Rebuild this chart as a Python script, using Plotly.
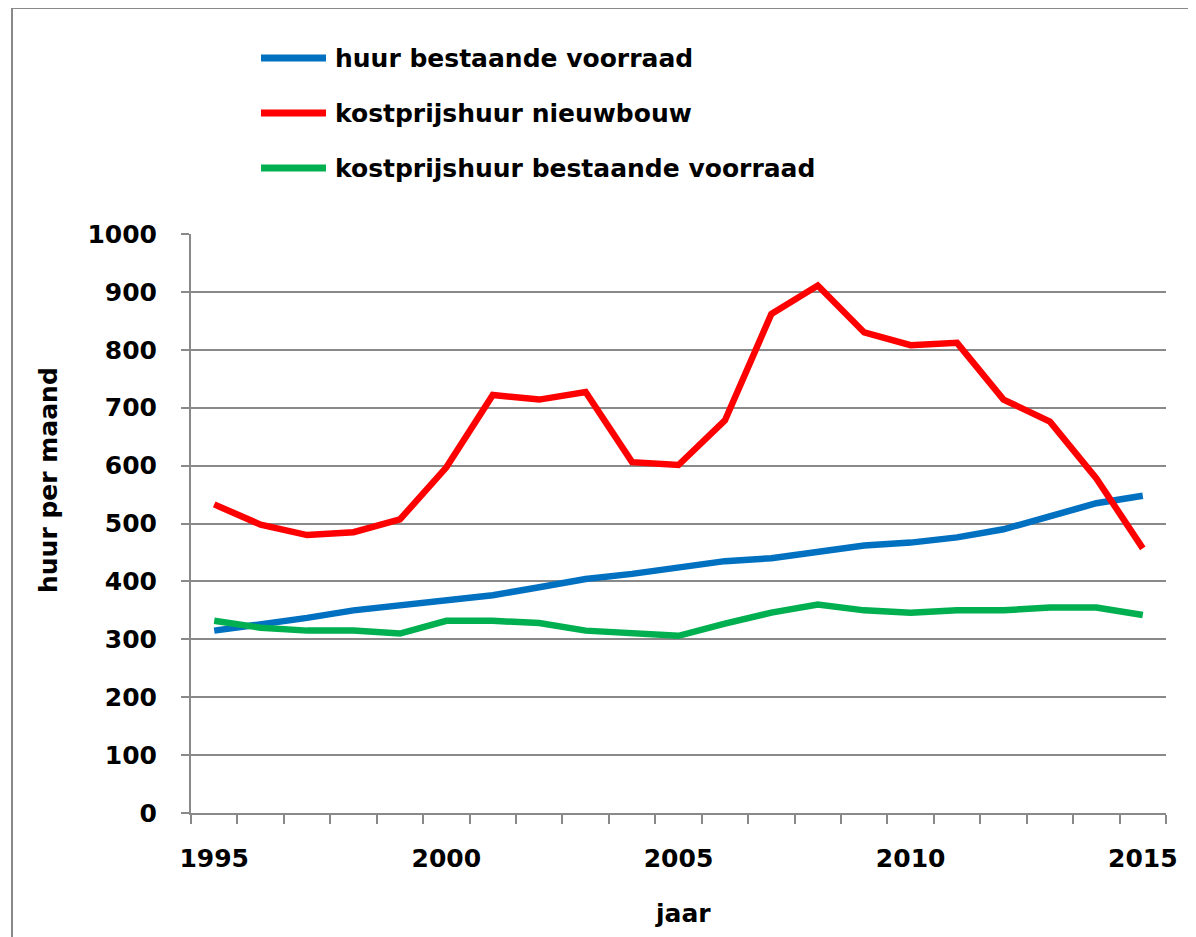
import plotly.graph_objects as go

years = list(range(1995, 2016))
huur_bestaande = [315, 325, 337, 350, 358, 367, 376, 390, 404, 413, 423, 435, 440, 450, 462, 467, 476, 490, 512, 535, 548]
kostprijs_nieuwbouw = [533, 498, 480, 485, 507, 597, 722, 714, 727, 606, 601, 678, 862, 911, 830, 808, 812, 714, 676, 578, 457]
kostprijs_bestaande = [332, 320, 315, 315, 310, 332, 332, 328, 315, 310, 306, 327, 346, 360, 350, 346, 350, 350, 355, 355, 342]

series_names = ["huur bestaande voorraad", "kostprijshuur nieuwbouw", "kostprijshuur bestaande voorraad"]
series_values = [huur_bestaande, kostprijs_nieuwbouw, kostprijs_bestaande]
series_colors = ["#0070C0", "#FF0000", "#00B050"]
y_ticks = list(range(0, 1001, 100))
x_label_years = [1995, 2000, 2005, 2010, 2015]

OFF = 8  # page body margin
W, H = 1196, 937
L, T = 191 - OFF, 234 - OFF
R = W - (1166 - OFF)
B = H - (813 - OFF)
PW, PH = W - L - R, H - T - B

def px_x(p):
    return (p - OFF - L) / PW

def px_y(p):
    return 1 - (p - OFF - T) / PH

GRAY = "#898989"
FONT = "DejaVu Sans"

fig = go.Figure()
for name, vals, col in zip(series_names, series_values, series_colors):
    fig.add_trace(go.Scatter(x=years, y=vals, mode="lines", name=name,
                             line=dict(color=col, width=6.5), showlegend=False))

# custom legend
legend_rows = [58, 113, 168]
for name, col, yp in zip(series_names, series_colors, legend_rows):
    fig.add_shape(type="line", xref="paper", yref="paper",
                  x0=px_x(261), x1=px_x(326), y0=px_y(yp), y1=px_y(yp),
                  line=dict(color=col, width=7))
    fig.add_annotation(xref="paper", yref="paper", x=px_x(333), y=px_y(yp),
                       text=name, showarrow=False, xanchor="left", yanchor="middle",
                       font=dict(family=FONT, size=25, color="black", weight="bold"))

# axis titles
fig.add_annotation(xref="paper", yref="paper", x=px_x(48), y=px_y(480),
                   text="huur per maand", textangle=-90, showarrow=False,
                   xanchor="center", yanchor="middle",
                   font=dict(family=FONT, size=25, color="black", weight="bold"))
fig.add_annotation(xref="paper", yref="paper", x=px_x(683), y=px_y(913),
                   text="jaar", showarrow=False, xanchor="center", yanchor="middle",
                   font=dict(family=FONT, size=25, color="black", weight="bold"))

# outer border
fig.add_shape(type="rect", xref="paper", yref="paper",
              x0=px_x(12), x1=px_x(1220), y0=px_y(8), y1=px_y(960),
              line=dict(color=GRAY, width=2), layer="below")

fig.update_layout(
    width=W, height=H,
    margin=dict(l=L, r=R, t=T, b=B),
    paper_bgcolor="white", plot_bgcolor="white",
    font=dict(family=FONT, color="black"),
    xaxis=dict(
        range=[1994.5, 2015.5], tickmode="array", tickvals=x_label_years,
        ticktext=[str(v) for v in x_label_years], ticks="", showgrid=False,
        showline=True, linecolor=GRAY, linewidth=2, zeroline=False,
        tickfont=dict(family=FONT, size=25, color="black", weight="bold"),
        ticklabelstandoff=22,
        minor=dict(tick0=1994.5, dtick=1, ticks="outside", ticklen=9,
                   tickcolor=GRAY, tickwidth=2, showgrid=False),
    ),
    yaxis=dict(
        range=[0, 1000], tickmode="array", tickvals=y_ticks,
        ticks="outside", ticklen=8, tickcolor=GRAY, tickwidth=2,
        showgrid=True, gridcolor=GRAY, gridwidth=2,
        showline=True, linecolor=GRAY, linewidth=2, zeroline=False,
        tickfont=dict(family=FONT, size=25, color="black", weight="bold"),
        ticklabelstandoff=19,
    ),
)

fig.write_html("out.html")
